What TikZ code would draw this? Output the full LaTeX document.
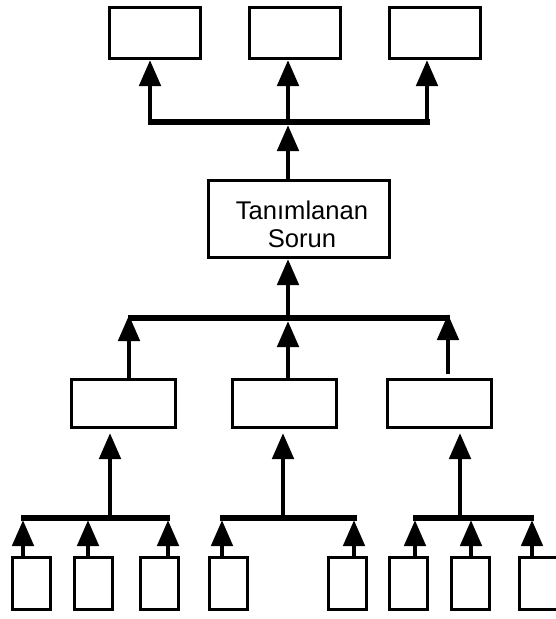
\documentclass[tikz,border=0pt]{standalone}
\usepackage{fontspec}
\setmainfont{Liberation Sans}
\usetikzlibrary{arrows.meta}
\begin{document}
\begin{tikzpicture}[x=1pt,y=-1pt,
  box/.style={draw,line width=3pt,inner sep=0pt,fill=white},
  topbox/.style={box,minimum width=91pt,minimum height=51pt},
  midbox/.style={box,minimum width=104pt,minimum height=48pt},
  smallbox/.style={box,minimum width=38pt,minimum height=52pt},
  bus/.style={line width=5.4pt},
  arr/.style={line width=4.8pt,-{Triangle[width=21pt,length=26pt]}},
  lbl/.style={font=\fontsize{25.6}{28}\selectfont,align=center,inner sep=0pt}]
\useasboundingbox (0,0) rectangle (556,619);
\clip (0,0) rectangle (556,619);

% top row of outcome boxes
\node[topbox] (t1) at (155,33) {};
\node[topbox] (t2) at (295,33) {};
\node[topbox] (t3) at (435,33) {};

% central problem box
\node[box,minimum width=181pt,minimum height=77pt] (core) at (299,219) {};
\node[lbl] (coretxt) at (302,224) {Tanımlanan\\Sorun};

% middle row of cause boxes
\node[midbox] (m1) at (123.5,403.5) {};
\node[midbox] (m2) at (284,403.5) {};
\node[midbox] (m3) at (439.5,403.5) {};

% bottom row of sub-cause boxes
\node[smallbox] (s1) at (31.5,583.5) {};
\node[smallbox] (s2) at (93.5,583.5) {};
\node[smallbox] (s3) at (159.5,583.5) {};
\node[smallbox] (s4) at (228,583.5) {};
\node[smallbox] (s5) at (347.5,583.5) {};
\node[smallbox] (s6) at (408,583.5) {};
\node[smallbox] (s7) at (470.5,583.5) {};
\node[smallbox] (s8) at (538,583.5) {};

% junction points on the buses
\coordinate (u1) at (150,122);
\coordinate (u2) at (288,122);
\coordinate (u3) at (427,122);
\coordinate (v1) at (129,318);
\coordinate (v2) at (288,318);
\coordinate (v3) at (448,318);
\coordinate (w1) at (110,518);
\coordinate (w2) at (283,518);
\coordinate (w3) at (460,518);
\coordinate (p1) at (23,518);
\coordinate (p2) at (88,518);
\coordinate (p3) at (168,518);
\coordinate (p4) at (222,518);
\coordinate (p5) at (354,518);
\coordinate (p6) at (415,518);
\coordinate (p7) at (471,518);
\coordinate (p8) at (532,518);

% buses
\draw[bus] (148,122) -- (430,122);
\draw[bus] (128,318) -- (450,318);
\draw[bus] (21,518) -- (170,518);
\draw[bus] (220,518) -- (357,518);
\draw[bus] (413,518) -- (534,518);

% upper level
\draw[arr] (u1) -- (t1.south -| u1);
\draw[arr] (u2) -- (t2.south -| u2);
\draw[arr] (u3) -- (t3.south -| u3);
\draw[arr,shorten >=3pt] (core.north -| u2) -- (u2);

% causes into the problem
\draw[arr] (v2) -- (core.south -| v2);
\draw[arr,shorten >=-3pt] (m1.north -| v1) -- (v1);
\draw[arr,shorten >=3pt] (m2.north -| v2) -- (v2);
\draw[arr,shorten <=4pt,shorten >=-4pt] (m3.north -| v3) -- (v3);

% sub-causes into the causes
\draw[arr,shorten >=4pt] (w1) -- (m1.south -| w1);
\draw[arr,shorten >=4pt] (w2) -- (m2.south -| w2);
\draw[arr,shorten >=4pt] (w3) -- (m3.south -| w3);
\draw[arr,shorten >=2pt] (s1.north -| p1) -- (p1);
\draw[arr,shorten >=2pt] (s2.north -| p2) -- (p2);
\draw[arr,shorten >=2pt] (s3.north -| p3) -- (p3);
\draw[arr,shorten >=2pt] (s4.north -| p4) -- (p4);
\draw[arr,shorten >=2pt] (s5.north -| p5) -- (p5);
\draw[arr,shorten >=2pt] (s6.north -| p6) -- (p6);
\draw[arr,shorten >=2pt] (s7.north -| p7) -- (p7);
\draw[arr,shorten >=2pt] (s8.north -| p8) -- (p8);
\end{tikzpicture}
\end{document}
